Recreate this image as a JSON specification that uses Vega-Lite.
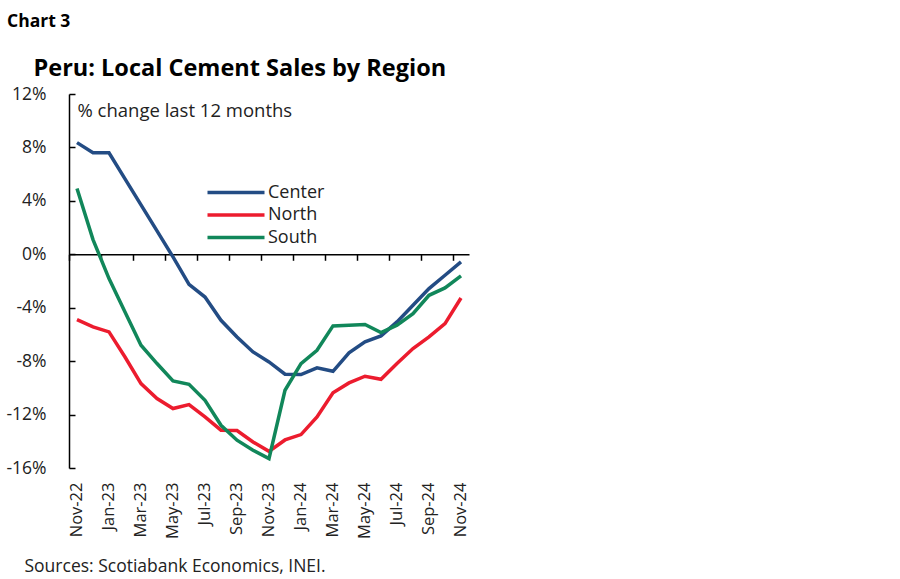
{
  "$schema": "https://vega.github.io/schema/vega-lite/v6.json",
  "width": 400,
  "height": 374,
  "autosize": {"type": "none"},
  "padding": {"left": 69, "top": 94, "right": 431, "bottom": 111},
  "background": "white",
  "title": {"text": "Chart 3", "anchor": "start", "frame": "group", "dx": -62, "dy": -2, "font": "Open Sans", "fontSize": 17.5, "fontWeight": "bold", "color": "black", "baseline": "alphabetic", "offset": 10},
  "config": {"view": {"stroke": null}, "font": "Open Sans"},
  "data": {"values": [
    {"month": "Nov-22", "region": "Center", "value": 8.36},
    {"month": "Nov-22", "region": "North", "value": -4.89},
    {"month": "Nov-22", "region": "South", "value": 4.92},
    {"month": "Dec-22", "region": "Center", "value": 7.6},
    {"month": "Dec-22", "region": "North", "value": -5.44},
    {"month": "Dec-22", "region": "South", "value": 1.1},
    {"month": "Jan-23", "region": "Center", "value": 7.6},
    {"month": "Jan-23", "region": "North", "value": -5.81},
    {"month": "Jan-23", "region": "South", "value": -1.82},
    {"month": "Feb-23", "region": "Center", "value": 5.65},
    {"month": "Feb-23", "region": "North", "value": -7.69},
    {"month": "Feb-23", "region": "South", "value": -4.32},
    {"month": "Mar-23", "region": "Center", "value": 3.7},
    {"month": "Mar-23", "region": "North", "value": -9.68},
    {"month": "Mar-23", "region": "South", "value": -6.81},
    {"month": "Apr-23", "region": "Center", "value": 1.75},
    {"month": "Apr-23", "region": "North", "value": -10.8},
    {"month": "Apr-23", "region": "South", "value": -8.18},
    {"month": "May-23", "region": "Center", "value": -0.2},
    {"month": "May-23", "region": "North", "value": -11.55},
    {"month": "May-23", "region": "South", "value": -9.48},
    {"month": "Jun-23", "region": "Center", "value": -2.25},
    {"month": "Jun-23", "region": "North", "value": -11.25},
    {"month": "Jun-23", "region": "South", "value": -9.73},
    {"month": "Jul-23", "region": "Center", "value": -3.2},
    {"month": "Jul-23", "region": "North", "value": -12.18},
    {"month": "Jul-23", "region": "South", "value": -10.93},
    {"month": "Aug-23", "region": "Center", "value": -4.94},
    {"month": "Aug-23", "region": "North", "value": -13.17},
    {"month": "Aug-23", "region": "South", "value": -12.8},
    {"month": "Sep-23", "region": "Center", "value": -6.19},
    {"month": "Sep-23", "region": "North", "value": -13.2},
    {"month": "Sep-23", "region": "South", "value": -13.92},
    {"month": "Oct-23", "region": "Center", "value": -7.31},
    {"month": "Oct-23", "region": "North", "value": -14.05},
    {"month": "Oct-23", "region": "South", "value": -14.67},
    {"month": "Nov-23", "region": "Center", "value": -8.06},
    {"month": "Nov-23", "region": "North", "value": -14.75},
    {"month": "Nov-23", "region": "South", "value": -15.3},
    {"month": "Dec-23", "region": "Center", "value": -8.98},
    {"month": "Dec-23", "region": "North", "value": -13.9},
    {"month": "Dec-23", "region": "South", "value": -10.18},
    {"month": "Jan-24", "region": "Center", "value": -9.0},
    {"month": "Jan-24", "region": "North", "value": -13.5},
    {"month": "Jan-24", "region": "South", "value": -8.18},
    {"month": "Feb-24", "region": "Center", "value": -8.5},
    {"month": "Feb-24", "region": "North", "value": -12.18},
    {"month": "Feb-24", "region": "South", "value": -7.19},
    {"month": "Mar-24", "region": "Center", "value": -8.76},
    {"month": "Mar-24", "region": "North", "value": -10.36},
    {"month": "Mar-24", "region": "South", "value": -5.36},
    {"month": "Apr-24", "region": "Center", "value": -7.38},
    {"month": "Apr-24", "region": "North", "value": -9.63},
    {"month": "Apr-24", "region": "South", "value": -5.31},
    {"month": "May-24", "region": "Center", "value": -6.56},
    {"month": "May-24", "region": "North", "value": -9.13},
    {"month": "May-24", "region": "South", "value": -5.26},
    {"month": "Jun-24", "region": "Center", "value": -6.11},
    {"month": "Jun-24", "region": "North", "value": -9.36},
    {"month": "Jun-24", "region": "South", "value": -5.86},
    {"month": "Jul-24", "region": "Center", "value": -5.06},
    {"month": "Jul-24", "region": "North", "value": -8.18},
    {"month": "Jul-24", "region": "South", "value": -5.31},
    {"month": "Aug-24", "region": "Center", "value": -3.82},
    {"month": "Aug-24", "region": "North", "value": -7.06},
    {"month": "Aug-24", "region": "South", "value": -4.44},
    {"month": "Sep-24", "region": "Center", "value": -2.57},
    {"month": "Sep-24", "region": "North", "value": -6.19},
    {"month": "Sep-24", "region": "South", "value": -3.07},
    {"month": "Oct-24", "region": "Center", "value": -1.57},
    {"month": "Oct-24", "region": "North", "value": -5.19},
    {"month": "Oct-24", "region": "South", "value": -2.52},
    {"month": "Nov-24", "region": "Center", "value": -0.57},
    {"month": "Nov-24", "region": "North", "value": -3.27},
    {"month": "Nov-24", "region": "South", "value": -1.62}
  ]},
  "layer": [
    {
      "mark": {"type": "line", "strokeWidth": 3.5},
      "encoding": {
        "x": {
          "field": "month", "type": "ordinal", "sort": null,
          "scale": {"type": "band", "paddingInner": 0, "paddingOuter": 0},
          "axis": {
            "orient": "bottom",
            "values": ["Nov-22", "Jan-23", "Mar-23", "May-23", "Jul-23", "Sep-23", "Nov-23", "Jan-24", "Mar-24", "May-24", "Jul-24", "Sep-24", "Nov-24"],
            "domain": false, "ticks": false, "grid": false,
            "labelAngle": -90, "labelAlign": "right", "labelBaseline": "middle",
            "labelPadding": 14, "labelFontSize": 16.5, "labelColor": "#222222",
            "title": "Sources: Scotiabank Economics, INEI.",
            "titleX": -45, "titleY": 103, "titleAlign": "left", "titleBaseline": "alphabetic",
            "titleAngle": 0, "titleFontSize": 17.5, "titleFontWeight": "normal", "titleColor": "#222222"
          }
        },
        "y": {
          "field": "value", "type": "quantitative",
          "scale": {"domain": [-16, 12], "nice": false, "zero": false},
          "axis": {
            "values": [-16, -12, -8, -4, 0, 4, 8, 12],
            "labelExpr": "datum.value + '%'",
            "grid": false,
            "domainColor": "black", "domainWidth": 1.5,
            "tickColor": "black", "tickWidth": 1.5, "tickSize": -6,
            "labelPadding": 29, "labelFontSize": 17.5, "labelColor": "#222222",
            "title": "% change last 12 months",
            "titleAngle": 0, "titleAlign": "left", "titleBaseline": "alphabetic",
            "titleX": 8, "titleY": 22, "titleFontSize": 18.5, "titleFontWeight": "normal", "titleColor": "#222222"
          }
        },
        "color": {
          "field": "region", "type": "nominal",
          "scale": {"domain": ["Center", "North", "South"], "range": ["#234C84", "#EC1C2E", "#11875A"]},
          "legend": {
            "orient": "none", "legendX": 158, "legendY": 89.5, "title": null,
            "symbolType": "M-5,0L5,0", "symbolSize": 130, "symbolStrokeWidth": 3.5,
            "labelFontSize": 18, "labelColor": "#222222", "labelOffset": 23, "rowPadding": 4.5
          }
        }
      }
    },
    {
      "mark": {"type": "line", "opacity": 0},
      "encoding": {
        "x": {
          "field": "month", "type": "ordinal", "sort": null,
          "axis": {
            "orient": "bottom",
            "offset": {"expr": "scale('y', 0) - height"},
            "values": ["Nov-22", "Jan-23", "Mar-23", "May-23", "Jul-23", "Sep-23", "Nov-23", "Jan-24", "Mar-24", "May-24", "Jul-24", "Sep-24", "Nov-24"],
            "bandPosition": 0, "labels": false, "grid": false, "ticks": true,
            "domainColor": "black", "domainWidth": 1.5,
            "tickColor": "black", "tickWidth": 1.5, "tickSize": 6,
            "title": "Peru: Local Cement Sales by Region",
            "titleX": -36, "titleY": -179, "titleAlign": "left", "titleBaseline": "alphabetic",
            "titleAngle": 0, "titleFontSize": 23.5, "titleFontWeight": "bold", "titleColor": "black"
          }
        },
        "y": {"field": "value", "type": "quantitative"},
        "detail": {"field": "region"}
      }
    }
  ],
  "resolve": {"axis": {"x": "independent"}}
}
